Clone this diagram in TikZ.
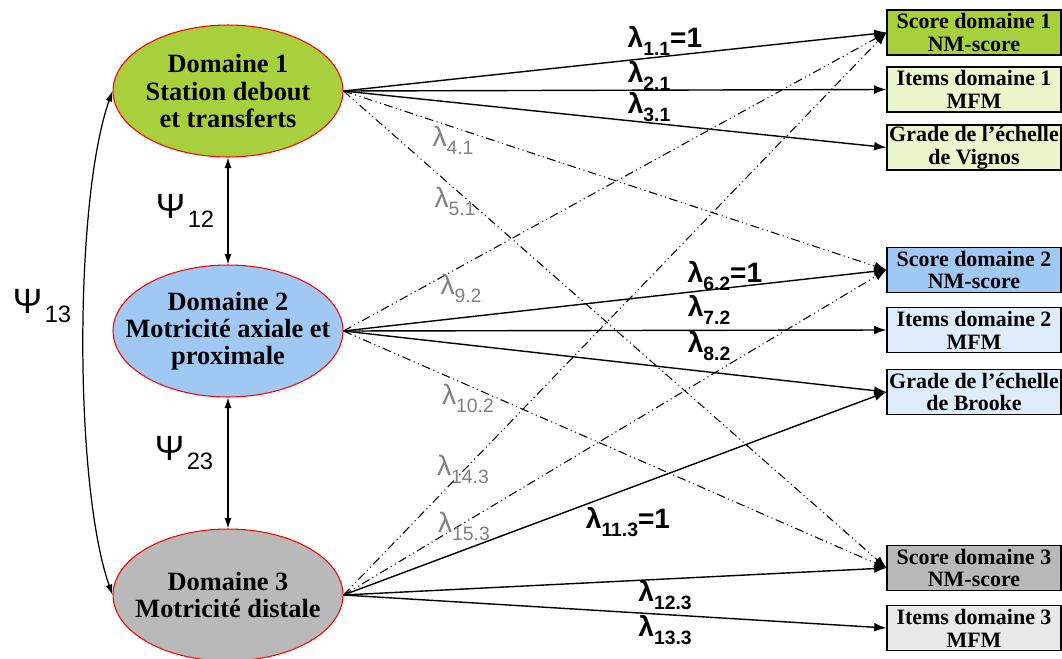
\documentclass[tikz,border=0pt]{standalone}
\usepackage{fontspec}
\setmainfont{Liberation Serif}
\newfontfamily\arial{Liberation Sans}
\usetikzlibrary{arrows.meta,shapes.geometric}
\definecolor{vert}{RGB}{168,208,60}
\definecolor{vertclair}{RGB}{236,246,205}
\definecolor{bleu}{RGB}{160,200,245}
\definecolor{bleuclair}{RGB}{222,236,252}
\definecolor{gris}{RGB}{185,185,185}
\definecolor{grisclair}{RGB}{232,232,232}
\definecolor{grislam}{RGB}{128,128,128}
\newcommand{\lam}[1]{λ\raisebox{-0.55ex}{\fontsize{11}{11}\selectfont #1}}
\newcommand{\psil}[1]{Ψ\hspace{1.5pt}\raisebox{-5.5pt}{\fontsize{13.5}{14}\selectfont #1}}
\tikzset{
  domaine/.style={ellipse, draw=red, line width=0.6pt, minimum width=4.6cm, minimum height=2.64cm, inner sep=0pt},
  dtexte/.style={align=center, font=\fontsize{15}{15.5}\selectfont\bfseries},
  indic/.style={draw=black, line width=0.6pt, minimum width=3.48cm, minimum height=0.9cm, inner sep=0pt, align=center, font=\fontsize{12.5}{13}\selectfont\bfseries},
  fleche/.style={-{Latex[length=7pt,width=5pt]}, line width=0.8pt},
  tiret/.style={fleche, line width=0.6pt, dash pattern=on 5pt off 2pt on 0.6pt off 2pt on 0.6pt off 2pt},
  cov/.style={{Latex[length=6pt,width=4pt]}-{Latex[length=6pt,width=4pt]}, line width=0.7pt},
  lgras/.style={font=\arial\fontsize{16}{16}\selectfont\bfseries, inner sep=0pt},
  lgris/.style={font=\arial\fontsize{16}{16}\selectfont, text=grislam, inner sep=0pt},
  lpsi/.style={font=\arial\fontsize{20}{20}\selectfont, inner sep=0pt}
}

\begin{document}
\begin{tikzpicture}[x=0.02cm, y=-0.02cm]
	%%%%% START %%%%%
	\useasboundingbox (0,0) rectangle (1062,659);

	% facteurs latents
	\node[domaine, fill=vert] (d1) at (228,91) {};
	\node[dtexte] (d1t) at (d1) {Domaine 1\\Station debout\\et transferts};
	\node[domaine, fill=bleu] (d2) at (228,331) {};
	\node[dtexte] (d2t) at (d2) {Domaine 2\\Motricité axiale et\\proximale};
	\node[domaine, fill=gris] (d3) at (228,595) {};
	\node[dtexte] (d3t) at (d3) {Domaine 3\\Motricité distale};

	% indicateurs
	\node[indic, fill=vert] (s1) at (974,32.5) {Score domaine 1\\NM-score};
	\node[indic, fill=vertclair] (i1) at (974,89.5) {Items domaine 1\\MFM};
	\node[indic, fill=vertclair] (g1) at (974,147.5) {Grade de l’échelle\\de Vignos};
	\node[indic, fill=bleu] (s2) at (974,270) {Score domaine 2\\NM-score};
	\node[indic, fill=bleuclair] (i2) at (974,330) {Items domaine 2\\MFM};
	\node[indic, fill=bleuclair] (g2) at (974,392) {Grade de l’échelle\\de Brooke};
	\node[indic, fill=gris] (s3) at (974,568) {Score domaine 3\\NM-score};
	\node[indic, fill=grisclair] (i3) at (974,628) {Items domaine 3\\MFM};

	% covariances
	\draw[cov] (d1.south) -- (d2.north);
	\draw[cov] (d2.south) -- (d3.north);
	\draw[cov] (d1.west) .. controls (74,200) and (74,485) .. (d3.west);
	\node[lpsi] (p12) at (185,211) {\psil{12}};
	\node[lpsi] (p23) at (184,453) {\psil{23}};
	\node[lpsi] (p13) at (42,306) {\psil{13}};

	% saturations
	\draw[fleche] (d1.east) -- (s1.west);
	\draw[fleche] (d1.east) -- (i1.west);
	\draw[fleche] (d1.east) -- (g1.west);
	\draw[tiret] (d1.east) -- (s2.west);
	\draw[tiret] (d1.east) -- (s3.west);
	\draw[tiret] (d2.east) -- (s1.west);
	\draw[fleche] (d2.east) -- (s2.west);
	\draw[fleche] (d2.east) -- (i2.west);
	\draw[fleche] (d2.east) -- (g2.west);
	\draw[tiret] (d2.east) -- (s3.west);
	\draw[tiret] (d3.east) -- (s1.west);
	\draw[tiret] (d3.east) -- (s2.west);
	\draw[fleche] (d3.east) -- (g2.west);
	\draw[fleche] (d3.east) -- (s3.west);
	\draw[fleche] (d3.east) -- (i3.west);

	\node[lgras] (l11) at (665,41) {\lam{1.1}=1};
	\node[lgras] (l21) at (649,76) {\lam{2.1}};
	\node[lgras] (l31) at (649,107) {\lam{3.1}};
	\node[lgras] (l62) at (725,276) {\lam{6.2}=1};
	\node[lgras] (l72) at (709,310) {\lam{7.2}};
	\node[lgras] (l82) at (709,346) {\lam{8.2}};
	\node[lgras] (l113) at (628,522) {\lam{11.3}=1};
	\node[lgras] (l123) at (665,595) {\lam{12.3}};
	\node[lgras] (l133) at (665,630) {\lam{13.3}};
	\node[lgris] (l41) at (453,140) {\lam{4.1}};
	\node[lgris] (l51) at (455,201) {\lam{5.1}};
	\node[lgris] (l92) at (461,288) {\lam{9.2}};
	\node[lgris] (l102) at (468,398) {\lam{10.2}};
	\node[lgris] (l143) at (463,469) {\lam{14.3}};
	\node[lgris] (l153) at (464,526) {\lam{15.3}};
	%%%%% END %%%%%
\end{tikzpicture}
\end{document}
